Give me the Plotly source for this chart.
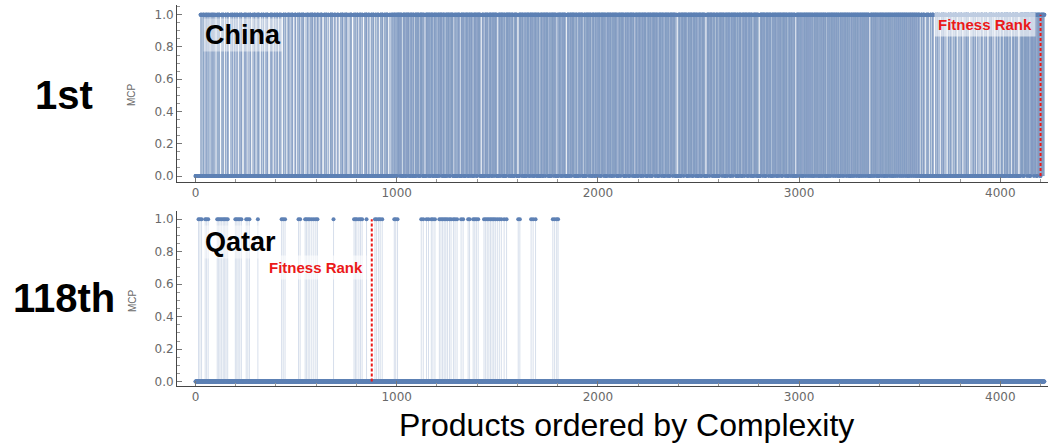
import plotly.graph_objects as go

# ---------------------------------------------------------------- data
N_PRODUCTS = 4220

# China: Mcp as (zeros, ones) run pairs in complexity order, 100 products per row
CHINA_RUNS = [
    (25, 4), (2, 3), (3, 5), (1, 2), (4, 3), (2, 6), (3, 2), (1, 4), (5, 3), (2, 4), (1, 3), (2, 5), (3, 2),
    (6, 5), (3, 7), (8, 4), (2, 6), (7, 5), (4, 8), (9, 3), (3, 6), (5, 5), (2, 2),
    (4, 6), (7, 4), (3, 8), (9, 5), (2, 6), (6, 4), (5, 7), (8, 3), (3, 7), (2, 1),
    (5, 4), (2, 7), (8, 5), (4, 6), (6, 3), (3, 8), (10, 4), (2, 6), (7, 5), (3, 2),
    (3, 7), (6, 5), (2, 4), (9, 6), (4, 5), (7, 7), (3, 4), (5, 8), (8, 7),
    (7, 5), (3, 6), (5, 4), (2, 8), (8, 3), (4, 7), (6, 5), (3, 9), (5, 6), (2, 2),
    (4, 8), (6, 3), (2, 7), (9, 5), (3, 6), (5, 4), (7, 8), (2, 5), (6, 6), (3, 1),
    (5, 6), (8, 4), (3, 9), (6, 5), (2, 7), (7, 3), (4, 8), (9, 5), (3, 4), (1, 1),
    (3, 6), (6, 7), (4, 5), (8, 4), (2, 9), (5, 6), (7, 5), (3, 8), (6, 4), (1, 1),
    (4, 7), (7, 5), (2, 8), (6, 6), (3, 9), (8, 4), (5, 7), (3, 8), (2, 6),
    (2, 14), (1, 9), (5, 11), (2, 7), (1, 12), (3, 10), (2, 8), (4, 9),
    (1, 11), (3, 15), (2, 6), (6, 12), (1, 9), (2, 13), (3, 10), (1, 5),
    (3, 9), (1, 14), (2, 10), (4, 8), (1, 12), (2, 16), (5, 7), (2, 4),
    (2, 12), (5, 10), (1, 8), (3, 14), (2, 9), (1, 11), (4, 13), (1, 4),
    (1, 16), (7, 9), (4, 11), (1, 7), (3, 13), (2, 10), (1, 12), (1, 2),
    (6, 10), (1, 12), (2, 8), (3, 15), (1, 9), (2, 11), (4, 14), (1, 1),
    (7, 13), (1, 10), (3, 9), (2, 14), (2, 11), (1, 8), (2, 12), (1, 4),
    (1, 9), (4, 12), (2, 11), (1, 15), (3, 8), (2, 13), (1, 10), (4, 4),
    (3, 14), (2, 8), (1, 12), (7, 10), (2, 9), (1, 16), (3, 9), (2, 1),
    (2, 10), (1, 13), (4, 9), (2, 15), (1, 11), (3, 12), (2, 8), (1, 6),
    (1, 12), (2, 15), (1, 9), (3, 13), (1, 11), (2, 10), (1, 14), (2, 3),
    (2, 11), (1, 16), (3, 9), (1, 12), (2, 14), (1, 10), (4, 11), (1, 2),
    (1, 13), (2, 10), (1, 15), (3, 12), (1, 9), (2, 16), (1, 11), (1, 2),
    (2, 14), (1, 11), (3, 13), (1, 10), (2, 15), (1, 12), (2, 4), (7, 2),
    (1, 10), (2, 13), (1, 16), (3, 11), (1, 12), (2, 14), (1, 9), (2, 2),
    (1, 12), (2, 14), (1, 4), (7, 13), (1, 15), (2, 11), (3, 10), (1, 3),
    (2, 15), (1, 12), (3, 10), (1, 14), (2, 11), (1, 16), (2, 8), (1, 1),
    (1, 13), (3, 11), (1, 15), (2, 12), (1, 10), (4, 13), (1, 9), (2, 2),
    (6, 14), (1, 11), (2, 15), (1, 12), (3, 10), (1, 13), (2, 9),
    (1, 13), (2, 15), (1, 11), (3, 12), (1, 10), (2, 10), (6, 13),
    (1, 9), (1, 8), (2, 12), (1, 10), (1, 9), (1, 8), (1, 7), (2, 11), (1, 10), (1, 4),
    (1, 7), (1, 7), (1, 10), (1, 8), (3, 9), (1, 7), (1, 12), (1, 10), (1, 10), (1, 8),
    (2, 11), (1, 8), (1, 12), (1, 10), (1, 7), (2, 9), (1, 7), (1, 11), (1, 10), (1, 3),
    (1, 8), (1, 8), (1, 9), (1, 9), (1, 10), (6, 10), (1, 7), (1, 10), (1, 7), (2, 6),
    (1, 10), (1, 10), (2, 8), (1, 7), (1, 10), (1, 7), (1, 7), (2, 9), (1, 9), (1, 11),
    (1, 8), (1, 8), (1, 10), (1, 10), (2, 7), (1, 9), (1, 9), (1, 8), (1, 8), (2, 11),
    (5, 7), (3, 9), (7, 4), (2, 8), (6, 5), (4, 9), (8, 6), (3, 7), (4, 3),
    (6, 6), (2, 9), (5, 4), (8, 7), (3, 8), (6, 5), (4, 10), (7, 4), (3, 3),
    (3, 8), (7, 5), (4, 9), (2, 6), (9, 4), (5, 8), (3, 7), (6, 6), (5, 3),
    (4, 9), (6, 5), (3, 8), (8, 6), (2, 10), (5, 4), (7, 7), (4, 8), (3, 1),
    (3, 10), (5, 9), (2, 12), (4, 8), (6, 11), (3, 9), (2, 5), (8, 3),
    (1, 14), (2, 16), (1, 12), (3, 18), (1, 13), (2, 15), (1, 1),
    (1, 19),
]

# Qatar: product positions with Mcp = 1
QATAR_ONES = [
    15, 22, 30, 48, 55, 63, 108, 115, 122, 130, 138, 145, 152, 160,
    198, 205, 212, 220, 228, 252, 260, 268, 310, 428, 436, 445, 512, 520,
    545, 552, 560, 568, 578, 588, 598, 606, 686, 788, 795, 802, 812, 820,
    828, 850, 892, 900, 910, 918, 928, 988, 995, 1004, 1122, 1132, 1148,
    1158, 1172, 1180, 1190, 1212, 1220, 1228, 1236, 1244, 1252, 1262, 1270,
    1282, 1290, 1300, 1320, 1330, 1355, 1362, 1380, 1388, 1396, 1405, 1434,
    1442, 1450, 1458, 1466, 1474, 1482, 1490, 1500, 1510, 1520, 1534, 1546,
    1604, 1612, 1668, 1678, 1690, 1776, 1785, 1795, 1802,
]

COUNTRIES = ["China", "Qatar"]
RANK_LABELS = ["1st", "118th"]
FITNESS_POS = [4200, 876]
X_TICKS = [0, 1000, 2000, 3000, 4000]
Y_TICKS = [0.0, 0.2, 0.4, 0.6, 0.8, 1.0]
X_TITLE = "Products ordered by Complexity"
Y_TITLE = "MCP"

# ---------------------------------------------------------------- decode
china = []
for z, o in CHINA_RUNS:
    china += [0] * z + [1] * o
qatar_set = set(QATAR_ONES)
qatar = [1 if i in qatar_set else 0 for i in range(N_PRODUCTS)]
series = [china, qatar]

BLUE = "rgb(94,129,181)"
STEM = "rgba(94,129,181,0.25)"
RED = "rgb(235,25,25)"
TICK_FONT = dict(family="DejaVu Sans", size=12, color="rgb(105,105,105)")

fig = go.Figure()

for p, vals in enumerate(series):
    xa = "x" if p == 0 else "x2"
    ya = "y" if p == 0 else "y2"
    ones = [i for i, v in enumerate(vals) if v == 1]
    # filling stems, split in interleaved groups so that neighbouring stems blend
    for k in range(5):
        xs, ys = [], []
        for i in ones:
            if i % 5 == k:
                xs += [i, i, None]
                ys += [0, 1, None]
        fig.add_trace(go.Scatter(x=xs, y=ys, mode="lines", xaxis=xa, yaxis=ya,
                                 line=dict(color=STEM, width=1),
                                 hoverinfo="skip", showlegend=False))
    fig.add_trace(go.Scatter(x=list(range(len(vals))), y=vals, mode="markers",
                             xaxis=xa, yaxis=ya,
                             marker=dict(color=BLUE, size=4, line=dict(width=0)),
                             showlegend=False))

X_RANGE = [-92, 4237]
Y_RANGES = [[-0.037, 1.06], [-0.027, 1.051]]
DOMAINS = [[0.5354, 1.0], [0.0, 0.4593]]

def x_axis(anchor, with_labels=True, **kw):
    d = dict(range=X_RANGE, tickvals=X_TICKS, ticks="inside", ticklen=5,
             tickcolor="rgb(120,120,120)", tickfont=TICK_FONT,
             showticklabels=with_labels, showgrid=False, zeroline=False,
             showline=True, linewidth=1, anchor=anchor,
             minor=dict(dtick=200, ticks="inside", ticklen=3,
                        tickcolor="rgb(150,150,150)", showgrid=False))
    d.update(kw)
    return d

def y_axis(anchor, rng, dom, with_labels=True, **kw):
    d = dict(range=rng, domain=dom, tickvals=Y_TICKS, ticktext=[f"{v:.1f}" for v in Y_TICKS],
             ticks="inside", ticklen=5, tickcolor="rgb(120,120,120)",
             tickfont=TICK_FONT, showticklabels=with_labels, showgrid=False,
             zeroline=False, showline=True, linewidth=1, anchor=anchor,
             minor=dict(dtick=0.05, ticks="inside", ticklen=3,
                        tickcolor="rgb(150,150,150)", showgrid=False))
    d.update(kw)
    return d

layout = dict(
    width=1052, height=443,
    margin=dict(l=177, r=4, t=5, b=57),
    paper_bgcolor="white", plot_bgcolor="white",
    showlegend=False,
    xaxis=x_axis("y", linecolor="rgb(70,70,70)"),
    yaxis=y_axis("x", Y_RANGES[0], DOMAINS[0], linecolor="rgb(70,70,70)"),
    xaxis2=x_axis("y2", linecolor="rgb(70,70,70)"),
    yaxis2=y_axis("x2", Y_RANGES[1], DOMAINS[1], linecolor="rgb(70,70,70)"),
    # light frame on top and right of each panel
    xaxis3=x_axis("y", False, overlaying="x", side="top", linecolor="rgb(175,175,175)"),
    yaxis3=y_axis("x", Y_RANGES[0], DOMAINS[0], False, overlaying="y", side="right",
                  linecolor="rgb(175,175,175)", ticks="", minor=dict(ticks="")),
    xaxis4=x_axis("y2", False, overlaying="x2", side="top", linecolor="rgb(175,175,175)"),
    yaxis4=y_axis("x2", Y_RANGES[1], DOMAINS[1], False, overlaying="y2", side="right",
                  linecolor="rgb(175,175,175)", ticks="", minor=dict(ticks="")),
)
fig.update_layout(**layout)

shapes = []
annotations = []
label_y = [0.874, 0.858]
rank_y = [0.942, 0.703]
mid_y = [0.7638, 0.231]
for p in range(2):
    xa = "x" if p == 0 else "x2"
    ya = "y" if p == 0 else "y2"
    shapes.append(dict(type="line", xref=xa, yref=ya, x0=FITNESS_POS[p], x1=FITNESS_POS[p],
                       y0=0, y1=1, line=dict(color=RED, width=2, dash="3px,2px")))
    annotations.append(dict(xref=xa, yref=ya, x=35, y=label_y[p], text=f"<b>{COUNTRIES[p]}</b>",
                            showarrow=False, xanchor="left", yanchor="middle",
                            font=dict(family="Liberation Sans", size=27, color="black"),
                            bgcolor="rgba(255,255,255,0.45)", borderpad=1))
    annotations.append(dict(xref=xa, yref=ya, x=FITNESS_POS[p], y=rank_y[p], xshift=-5,
                            text="<b>Fitness Rank</b>", showarrow=False,
                            xanchor="right", yanchor="middle",
                            font=dict(family="Liberation Sans", size=15, color=RED),
                            bgcolor="rgba(255,255,255,0.6)", borderpad=3))
    annotations.append(dict(xref="paper", yref="paper", x=0, y=mid_y[p], xshift=-113,
                            text=f"<b>{RANK_LABELS[p]}</b>", showarrow=False,
                            xanchor="center", yanchor="middle",
                            font=dict(family="Liberation Sans", size=40, color="black")))
    annotations.append(dict(xref="paper", yref="paper", x=0, y=[0.7638, 0.223][p], xshift=-45,
                            text=Y_TITLE, textangle=-90, showarrow=False,
                            xanchor="center", yanchor="middle",
                            font=dict(family="Liberation Sans", size=10, color="rgb(105,105,105)")))

annotations.append(dict(xref="paper", yref="paper", x=0.5155, y=0, yshift=-39,
                        text=X_TITLE, showarrow=False, xanchor="center", yanchor="middle",
                        font=dict(family="Liberation Sans", size=32, color="black")))
fig.update_layout(shapes=shapes, annotations=annotations)

fig.write_html("out.html")
